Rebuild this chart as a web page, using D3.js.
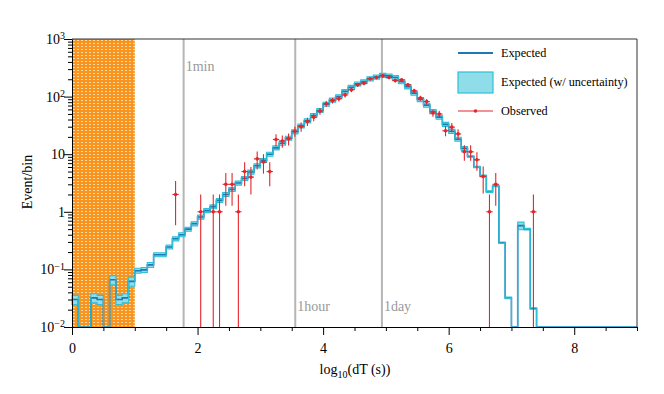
<!DOCTYPE html>
<html>
<head>
<meta charset="utf-8">
<script src="https://cdn.jsdelivr.net/npm/d3@7"></script>
<style>
  body { margin: 0; background: #fff; }
  svg text { font-family: "Liberation Serif", "DejaVu Serif", serif; }
</style>
</head>
<body>
<svg id="chart" width="664" height="394"></svg>
<script>
// Histogram bins: width 0.1 in log10(dT), first bin starts at 0
const binWidth = 0.1;

// Expected events per bin (0 = empty bin)
const expected = [
  0.030, 0, 0, 0.032, 0.030, 0, 0.066, 0.030, 0.032, 0.062,
  0.095, 0.098, 0.12, 0.18, 0.18, 0.245, 0.34, 0.40, 0.50, 0.62,
  0.81, 1.05, 1.23, 1.58, 2.0, 2.45, 3.16, 3.8, 4.9, 6.3,
  7.8, 10, 12.9, 15.5, 19, 24.5, 31, 38, 47, 57.5,
  74, 87, 100, 123, 145, 166, 182, 204, 219, 234,
  229, 214, 182, 148, 115, 89, 71, 55, 44, 33,
  25, 18.2, 12.6, 9.1, 6.0, 4.2, 2.24, 2.8, 0.29, 0.032,
  0, 0.575, 0.50, 0.021, 0, 0, 0, 0, 0, 0,
  0, 0, 0, 0, 0, 0, 0, 0, 0, 0
];

// Relative uncertainty of the expectation per bin
const expRelErr = [
  0.18, 0.18, 0.18, 0.18, 0.18, 0.18, 0.18, 0.18, 0.18, 0.18,
  0.10, 0.10, 0.10, 0.08, 0.08, 0.08, 0.08, 0.08, 0.08, 0.08,
  0.08, 0.08, 0.08, 0.08, 0.08, 0.08, 0.08, 0.08, 0.08, 0.08,
  0.08, 0.08, 0.08, 0.08, 0.08, 0.08, 0.08, 0.08, 0.08, 0.08,
  0.08, 0.08, 0.08, 0.08, 0.08, 0.08, 0.08, 0.08, 0.08, 0.08,
  0.08, 0.08, 0.08, 0.08, 0.08, 0.08, 0.08, 0.08, 0.08, 0.08,
  0.08, 0.08, 0.08, 0.03, 0.03, 0.03, 0.03, 0.03, 0.03, 0.03,
  0, 0.15, 0.03, 0.03, 0, 0, 0, 0, 0, 0,
  0, 0, 0, 0, 0, 0, 0, 0, 0, 0
];

// Observed events (bin centre, count)
const obsCenter = [
  1.65, 2.05, 2.25, 2.35, 2.45, 2.55, 2.65, 2.75, 2.85, 2.95,
  3.05, 3.15, 3.25, 3.35, 3.45, 3.55, 3.65, 3.75, 3.85, 3.95,
  4.05, 4.15, 4.25, 4.35, 4.45, 4.55, 4.65, 4.75, 4.85, 4.95,
  5.05, 5.15, 5.25, 5.35, 5.45, 5.55, 5.65, 5.75, 5.85, 5.95,
  6.05, 6.15, 6.25, 6.35, 6.45, 6.55, 6.65, 6.75, 7.35
];
const obsValue = [
  2, 1, 1, 1, 3, 3, 1, 5, 4, 8.3,
  7.3, 5, 18, 17, 18.5, 25, 30, 37, 44, 56,
  75, 85, 92, 107, 131, 160, 171, 204, 215, 229,
  215, 190, 195, 160, 126, 94, 82, 52, 50, 25.5,
  29.5, 22.5, 11, 11, 8, 4.1, 1, 3, 1
];

// Reference time marks (seconds)
const markLabels = ['1min', '1hour', '1day'];
const markSeconds = [60, 3600, 86400];

const svg = d3.select('#chart');
const x = d3.scaleLinear().domain([0, 9]).range([72, 637]);
const y = d3.scaleLog().domain([1e-2, 1e3]).range([327, 39]);
const yBottom = y.range()[0];
const yb = v => v > 0 ? Math.min(y(v), yBottom) : yBottom;

const expBlue = '#1f77b4';
const bandFill = '#8fdde8';
const bandLine = '#2fc0d8';
const obsRed = '#e3262b';

// Orange dotted pattern for the excluded region
const defs = svg.append('defs');
const pat = defs.append('pattern')
  .attr('id', 'dots')
  .attr('patternUnits', 'userSpaceOnUse')
  .attr('width', 4).attr('height', 3);
pat.append('rect').attr('width', 4).attr('height', 3).attr('fill', '#f7951f');
pat.append('rect').attr('x', 1).attr('y', 1).attr('width', 2).attr('height', 1).attr('fill', '#fcd8a8');

svg.append('rect')
  .attr('x', x(0)).attr('y', y(1e3))
  .attr('width', x(1) - x(0)).attr('height', yBottom - y(1e3))
  .attr('fill', 'url(#dots)');

// Vertical reference lines
markSeconds.forEach((s, i) => {
  const px = x(Math.log10(s));
  svg.append('line')
    .attr('x1', px).attr('x2', px)
    .attr('y1', y(1e3)).attr('y2', yBottom)
    .attr('stroke', '#b5b5b5').attr('stroke-width', 2);
  svg.append('text')
    .attr('x', px + 2).attr('y', i === 0 ? 71 : 311)
    .attr('font-size', 14).attr('fill', '#999')
    .text(markLabels[i]);
});

// Histogram data with a closing point at the right edge
const bins = expected.map((v, i) => ({
  x0: i * binWidth,
  v: v,
  lo: v * (1 - expRelErr[i]),
  hi: v * (1 + expRelErr[i])
}));
bins.push(Object.assign({}, bins[bins.length - 1], { x0: 9 }));

const band = d3.area()
  .x(d => x(d.x0))
  .y0(d => yb(d.lo))
  .y1(d => yb(d.hi))
  .curve(d3.curveStepAfter);

const expLine = d3.line()
  .x(d => x(d.x0))
  .y(d => yb(d.v))
  .curve(d3.curveStepAfter);

svg.append('path').attr('d', band(bins)).attr('fill', bandFill).attr('stroke', 'none');
svg.append('path').attr('d', expLine(bins)).attr('fill', 'none')
  .attr('stroke', expBlue).attr('stroke-width', 1.6);
svg.append('path').attr('d', band(bins)).attr('fill', 'none')
  .attr('stroke', bandLine).attr('stroke-width', 1.1);

// Observed points with Poisson errors
const obs = svg.append('g');
obsCenter.forEach((c, i) => {
  const v = obsValue[i];
  const e = Math.sqrt(v);
  const px = x(c);
  obs.append('line')
    .attr('x1', px).attr('x2', px)
    .attr('y1', yb(v + e)).attr('y2', v - e > 0.011 ? yb(v - e) : yBottom)
    .attr('stroke', obsRed).attr('stroke-width', 1.1);
  obs.append('line')
    .attr('x1', x(c - binWidth / 2)).attr('x2', x(c + binWidth / 2))
    .attr('y1', yb(v)).attr('y2', yb(v))
    .attr('stroke', obsRed).attr('stroke-width', 1.1);
  obs.append('circle')
    .attr('cx', px).attr('cy', yb(v)).attr('r', 1.8)
    .attr('fill', obsRed);
});

// Frame
svg.append('path')
  .attr('d', `M${x(0)},${y(1e3)}H${x(9)}V${yBottom}`)
  .attr('fill', 'none').attr('stroke', '#333').attr('stroke-width', 1);

// X axis
const gx = svg.append('g').attr('transform', `translate(0,${yBottom})`)
  .call(d3.axisBottom(x)
    .tickValues(d3.range(0, 9.01, 0.5))
    .tickSizeOuter(0)
    .tickFormat(d => d % 2 === 0 ? d : ''));
gx.selectAll('.tick line').attr('y2', d => d % 2 === 0 ? 8 : 4);
gx.selectAll('.tick text').attr('y', 16).attr('font-size', 14)
  .attr('font-family', '"Liberation Serif", serif').attr('fill', '#000');

// Y axis
const isDecade = d => Math.abs(Math.log10(d) - Math.round(Math.log10(d))) < 1e-6;
const gy = svg.append('g').attr('transform', `translate(${x(0)},0)`)
  .call(d3.axisLeft(y).tickSizeOuter(0).tickFormat(() => ''));
gy.selectAll('.tick line').attr('x2', d => isDecade(d) ? -8 : -4);
gy.selectAll('.tick text').each(function(d) {
  if (!isDecade(d)) return;
  const p = Math.round(Math.log10(d));
  const t = d3.select(this)
    .attr('x', -7).attr('font-size', 14)
    .attr('font-family', '"Liberation Serif", serif').attr('fill', '#000');
  if (p === 0) { t.text('1'); return; }
  if (p === 1) { t.text('10'); return; }
  t.text('10');
  t.append('tspan').attr('dy', '-0.45em').attr('font-size', 10)
    .text(p < 0 ? '\u2212' + (-p) : p);
});
gx.select('.domain').attr('stroke', '#000');
gy.select('.domain').attr('stroke', '#000');

// Axis titles
const xt = svg.append('text')
  .attr('x', 355).attr('y', 374)
  .attr('text-anchor', 'middle').attr('font-size', 14);
xt.append('tspan').text('log');
xt.append('tspan').attr('dy', 4).attr('font-size', 10).text('10');
xt.append('tspan').attr('dy', -4).text('(dT (s))');

svg.append('text')
  .attr('transform', 'translate(32,182) rotate(-90)')
  .attr('text-anchor', 'middle').attr('font-size', 14)
  .text('Event/bin');

// Legend
const lg = svg.append('g').attr('font-size', 12.2);
lg.append('line').attr('x1', 458).attr('x2', 493).attr('y1', 53).attr('y2', 53)
  .attr('stroke', expBlue).attr('stroke-width', 2);
lg.append('text').attr('x', 501).attr('y', 57).text('Expected');
lg.append('rect').attr('x', 458).attr('y', 72).attr('width', 35).attr('height', 21)
  .attr('fill', bandFill).attr('stroke', bandLine).attr('stroke-width', 1.2);
lg.append('text').attr('x', 501).attr('y', 86).text('Expected (w/ uncertainty)');
lg.append('line').attr('x1', 458).attr('x2', 493).attr('y1', 111).attr('y2', 111)
  .attr('stroke', obsRed).attr('stroke-width', 1.1);
lg.append('circle').attr('cx', 475.5).attr('cy', 111).attr('r', 1.8).attr('fill', obsRed);
lg.append('text').attr('x', 501).attr('y', 115).text('Observed');
</script>
</body>
</html>
